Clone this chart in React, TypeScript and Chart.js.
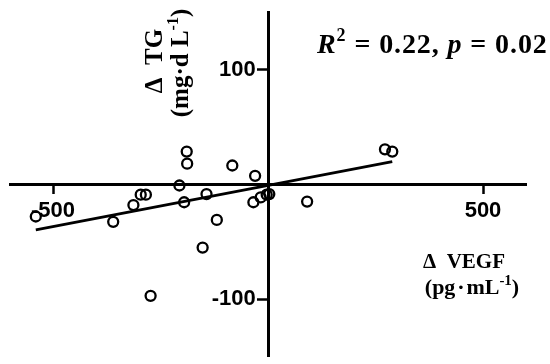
import React, { useEffect, useRef } from "react";
import { Chart, registerables } from "chart.js";

Chart.register(...registerables);

// Data
const vegfValues = [-540, -360, -313, -296, -284, -206, -189, -188, -195, -143, -119, -152, -273, -83, -30, -34, -17, -3, 3, 91, 272, 289];
const tgValues = [-28, -32.6, -18, -9, -9, -1, 28.5, 18, -15.6, -8.5, -31, -55, -97, 16.4, 7.4, -15.6, -11.4, -9, -8.5, -15, 30.5, 28.5];
const fitX = [-540, 289];
const fitY = [-39.7, 19.8];
const xTickValues = [-500, 500];
const yTickValues = [-100, 100];
const xRange = [-600, 600];
const yRange = [-150, 150];

type Part = { text: string; font: string; dy?: number };

function drawRich(
  ctx: CanvasRenderingContext2D,
  parts: Part[],
  x: number,
  y: number,
  align: "left" | "center",
  rotate = 0,
  spacing = 0
) {
  ctx.save();
  ctx.translate(x, y);
  if (rotate) ctx.rotate(rotate);
  ctx.fillStyle = "#000";
  ctx.textBaseline = "alphabetic";
  ctx.textAlign = "left";
  const widths = parts.map((p) => {
    ctx.font = p.font;
    return ctx.measureText(p.text).width + spacing * p.text.length;
  });
  const total = widths.reduce((a, b) => a + b, 0);
  let cx = align === "center" ? -total / 2 : 0;
  parts.forEach((p, i) => {
    ctx.font = p.font;
    if (spacing) {
      for (const ch of p.text) {
        ctx.fillText(ch, cx, p.dy || 0);
        cx += ctx.measureText(ch).width + spacing;
      }
    } else {
      ctx.fillText(p.text, cx, p.dy || 0);
      cx += widths[i];
    }
  });
  ctx.restore();
}

const SERIF = '"Liberation Serif", "Times New Roman", serif';
const B = (s: number) => `bold ${s}px ${SERIF}`;
const BI = (s: number) => `italic bold ${s}px ${SERIF}`;

const textPlugin = {
  id: "annotText",
  afterDraw(chart: any) {
    const ctx = chart.ctx as CanvasRenderingContext2D;
    // R^2 statement
    drawRich(
      ctx,
      [
        { text: "R", font: BI(28) },
        { text: "2", font: B(18), dy: -12 },
        { text: " = 0.22, ", font: B(28) },
        { text: "p", font: BI(28) },
        { text: " = 0.02", font: B(28) },
      ],
      317,
      53,
      "left",
      0,
      0.9
    );
    // x-axis title
    drawRich(ctx, [{ text: "Δ  VEGF", font: B(21) }], 464, 268, "center");
    drawRich(
      ctx,
      [
        { text: "(pg\u200A·\u200AmL", font: B(22) },
        { text: "-1", font: B(15), dy: -9 },
        { text: ")", font: B(22) },
      ],
      472,
      294,
      "center"
    );
    // y-axis title (rotated)
    drawRich(ctx, [{ text: "Δ  TG", font: B(25) }], 162, 61, "center", -Math.PI / 2);
    drawRich(
      ctx,
      [
        { text: "(mg·d L", font: B(25) },
        { text: "-1", font: B(16), dy: -10 },
        { text: ")", font: B(25) },
      ],
      188,
      63,
      "center",
      -Math.PI / 2
    );
  },
};

export default function App() {
  const ref = useRef<HTMLCanvasElement | null>(null);
  useEffect(() => {
    if (!ref.current) return;
    const points = vegfValues.map((v, i) => ({ x: v, y: tgValues[i] }));
    const fit = fitX.map((v, i) => ({ x: v, y: fitY[i] }));
    const chart = new Chart(ref.current, {
      type: "scatter",
      data: {
        datasets: [
          {
            type: "line",
            data: fit,
            borderColor: "#000",
            borderWidth: 2.8,
            pointRadius: 0,
            fill: false,
          } as any,
          {
            data: points,
            pointRadius: 5,
            pointBorderWidth: 2.3,
            borderColor: "#000",
            backgroundColor: "rgba(0,0,0,0)",
            pointHoverRadius: 5,
          },
        ],
      },
      options: {
        animation: false,
        responsive: false,
        events: [],
        layout: { padding: { left: 10, right: 24, top: 12, bottom: 7 } },
        plugins: { legend: { display: false }, tooltip: { enabled: false } },
        scales: {
          x: {
            type: "linear",
            min: xRange[0],
            max: xRange[1],
            position: { y: 0 } as any,
            afterFit: (s: any) => {
              s.height = 0;
              s.paddingLeft = 0;
              s.paddingRight = 0;
            },
            afterBuildTicks: (s: any) => {
              s.ticks = xTickValues.map((v) => ({ value: v }));
            },
            grid: {
              drawOnChartArea: false,
              drawTicks: true,
              tickLength: 8,
              tickWidth: 2.5,
              tickColor: "#000",
            },
            border: { display: true, color: "#000", width: 3 },
            ticks: {
              color: "#000",
              padding: 5,
              maxRotation: 0,
              font: { family: '"Liberation Sans", Arial, sans-serif', size: 22, weight: "bold" },
              callback: (v: any) => String(v),
            },
          },
          y: {
            type: "linear",
            min: yRange[0],
            max: yRange[1],
            position: { x: 0 } as any,
            afterFit: (s: any) => {
              s.width = 0;
              s.paddingTop = 0;
              s.paddingBottom = 0;
            },
            afterBuildTicks: (s: any) => {
              s.ticks = yTickValues.map((v) => ({ value: v }));
            },
            grid: {
              drawOnChartArea: false,
              drawTicks: true,
              tickLength: 10,
              tickWidth: 2.5,
              tickColor: "#000",
            },
            border: { display: true, color: "#000", width: 3 },
            ticks: {
              color: "#000",
              font: { family: '"Liberation Sans", Arial, sans-serif', size: 22, weight: "bold" },
              callback: (v: any) => String(v) + "  ",
            },
          },
        },
      },
      plugins: [textPlugin],
    });
    return () => chart.destroy();
  }, []);
  return (
    <div style={{ position: "absolute", left: 0, top: 0, width: 550, height: 364, background: "#fff" }}>
      <canvas ref={ref} width={550} height={364} />
    </div>
  );
}
